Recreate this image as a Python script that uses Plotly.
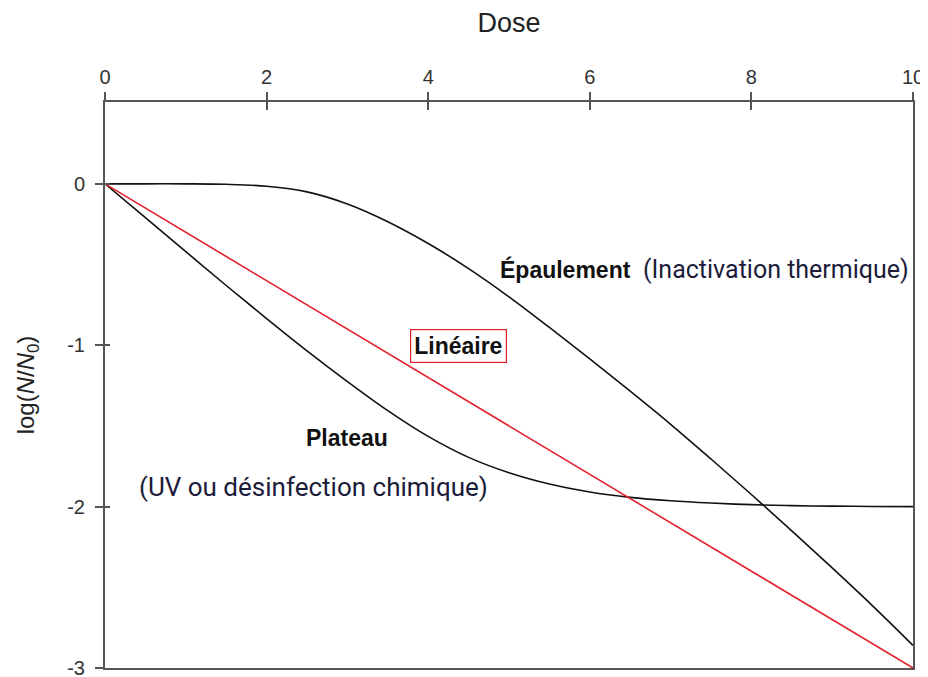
import plotly.graph_objects as go

# ---- data ----
dose_ticks = [0, 2, 4, 6, 8, 10]
logn_ticks = [0, -1, -2, -3]
logn_labels = ["0", "-1", "-2", "-3"]

lin_x = [0, 10]
lin_y = [0, -3]

shoulder_x = [0, 0.5, 1, 1.5, 2, 2.5, 3, 3.5, 4, 4.5, 5, 5.5, 6, 6.5, 7, 7.5, 8, 8.5, 9, 9.5, 10]
shoulder_y = [0, 0, 0, -0.003, -0.015, -0.05, -0.125, -0.235, -0.37, -0.525, -0.70, -0.89,
              -1.085, -1.285, -1.49, -1.705, -1.925, -2.15, -2.38, -2.615, -2.86]

plateau_x = [0, 0.5, 1, 1.5, 2, 2.5, 3, 3.5, 4, 4.5, 5, 5.5, 6, 6.5, 7, 7.5, 8, 8.5, 9, 9.5, 10]
plateau_y = [0, -0.21, -0.42, -0.63, -0.835, -1.035, -1.225, -1.405, -1.565, -1.695, -1.79, -1.86,
             -1.91, -1.943, -1.964, -1.978, -1.988, -1.994, -1.997, -1.999, -2.0]

FONT = "Liberation Sans, Arial, sans-serif"
AXC = "#555555"

fig = go.Figure()
fig.add_trace(go.Scatter(x=shoulder_x, y=shoulder_y, mode="lines",
                         line=dict(color="#111111", width=1.6, shape="spline", smoothing=1), hoverinfo="skip"))
fig.add_trace(go.Scatter(x=plateau_x, y=plateau_y, mode="lines",
                         line=dict(color="#111111", width=1.6, shape="spline", smoothing=1), hoverinfo="skip"))
fig.add_trace(go.Scatter(x=lin_x, y=lin_y, mode="lines", line=dict(color="#e3202b", width=1.6), hoverinfo="skip"))
# invisible trace for the inner-tick overlay axes
fig.add_trace(go.Scatter(x=[0], y=[0], xaxis="x2", yaxis="y2", mode="markers",
                         marker=dict(opacity=0), hoverinfo="skip"))

yr = [-3, 0.507]
fig.update_layout(
    width=920, height=680,
    margin=dict(l=97, r=15, t=94, b=20),
    paper_bgcolor="white", plot_bgcolor="white",
    showlegend=False,
    font=dict(family=FONT, color="#333333"),
    xaxis=dict(range=[0, 10], side="top", tickvals=dose_ticks, ticks="outside", ticklen=8, tickwidth=2, tickcolor=AXC,
               showline=True, linecolor=AXC, linewidth=2, mirror=True, showgrid=False, zeroline=False,
               automargin=False, ticklabeloverflow="allow",
               tickfont=dict(family=FONT, size=20, color="#333333"),
               title=dict(text="Dose", font=dict(family=FONT, size=27, color="#222222"), standoff=26)),
    yaxis=dict(range=yr, tickvals=logn_ticks, ticktext=logn_labels, ticks="outside", ticklen=8, tickwidth=2,
               tickcolor=AXC, showline=True, linecolor=AXC, linewidth=2, mirror=True, showgrid=False,
               zeroline=False, automargin=False, ticklabeloverflow="allow",
               tickfont=dict(family=FONT, size=20, color="#333333"),
               ticklabelstandoff=6,
               title=dict(text="log(<i>N</i>/<i>N</i><sub>0</sub>)",
                          font=dict(family=FONT, size=24, color="#222222"), standoff=26)),
    xaxis2=dict(range=[0, 10], overlaying="x", side="top", tickvals=dose_ticks, ticks="inside", ticklen=8,
                tickwidth=2, tickcolor=AXC, showticklabels=False, showline=False, showgrid=False,
                zeroline=False, automargin=False),
    yaxis2=dict(range=yr, overlaying="y", side="left", tickvals=logn_ticks, ticks="inside", ticklen=5,
                tickwidth=2, tickcolor=AXC, showticklabels=False, showline=False, showgrid=False,
                zeroline=False, automargin=False),
)

fig.add_annotation(x=5.70, y=-0.53, text="<b>Épaulement</b>", showarrow=False,
                   font=dict(family=FONT, size=23, color="#111111"))
fig.add_annotation(x=8.31, y=-0.528, text="(Inactivation thermique)", showarrow=False,
                   font=dict(family="Roboto, sans-serif", size=25, color="#1c1c3a"))
fig.add_annotation(x=4.37, y=-1.004, text="<b>Linéaire</b>", showarrow=False,
                   font=dict(family=FONT, size=23, color="#111111"),
                   bordercolor="#e3202b", borderwidth=1.2, borderpad=3, bgcolor="white")
fig.add_annotation(x=2.99, y=-1.573, text="<b>Plateau</b>", showarrow=False,
                   font=dict(family=FONT, size=23, color="#111111"))
fig.add_annotation(x=2.58, y=-1.88, text="(UV ou désinfection chimique)", showarrow=False,
                   font=dict(family="Roboto, sans-serif", size=26, color="#1c1c3a"))

fig.write_html("out.html")
